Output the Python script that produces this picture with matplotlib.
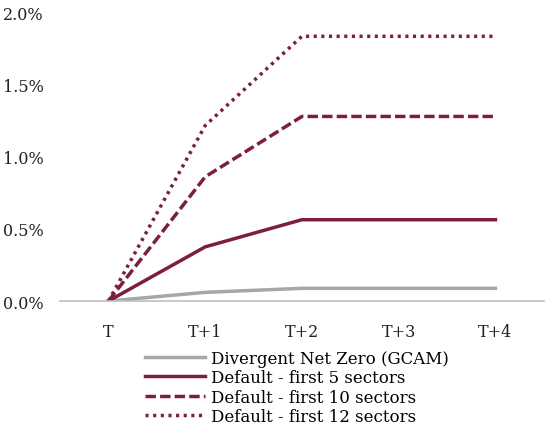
import numpy as np
import matplotlib.pyplot as plt
from matplotlib.ticker import FuncFormatter

periods = ['T', 'T+1', 'T+2', 'T+3', 'T+4']
gcam = [0.0, 0.06, 0.088, 0.088, 0.088]
first5 = [0.0, 0.375, 0.563, 0.563, 0.563]
first10 = [0.0, 0.86, 1.278, 1.278, 1.278]
first12 = [0.0, 1.215, 1.833, 1.833, 1.833]

maroon = '#7b2038'
grey = '#a3a8aa'

plt.rcParams['font.family'] = ['DejaVu Serif']

fig = plt.figure(figsize=(5.46, 4.39), dpi=100)
ax = fig.add_axes([0.110, 0.312, 0.886, 0.658])

x = np.arange(len(periods))
lw = 2.5
ax.plot(x, gcam, color=grey, lw=lw, label='Divergent Net Zero (GCAM)')
ax.plot(x, first5, color=maroon, lw=lw, label='Default - first 5 sectors')
ax.plot(x, first10, color=maroon, lw=lw, ls=(0, (3.0, 1.2)), label='Default - first 10 sectors')
ax.plot(x, first12, color=maroon, lw=lw, ls=(0, (0.9, 1.3)), label='Default - first 12 sectors')

ax.set_xlim(-0.5, 4.5)
ax.set_ylim(0, 2.0)
ax.set_yticks([0, 0.5, 1.0, 1.5, 2.0])
ax.yaxis.set_major_formatter(FuncFormatter(lambda v, p: f'{v:.1f}%'))
ax.set_xticks(x)
ax.set_xticklabels(periods)
ax.tick_params(length=0, labelsize=11.5, colors='#222222')
ax.tick_params(axis='x', pad=16)
ax.tick_params(axis='y', pad=12)
for s in ['top', 'right', 'left']:
    ax.spines[s].set_visible(False)
ax.spines['bottom'].set_color('#bdbdbd')
ax.spines['bottom'].set_linewidth(1.2)

ax.legend(loc='upper center', bbox_to_anchor=(0.49, -0.14), frameon=False,
          handlelength=3.6, handletextpad=0.35, labelspacing=0.15, borderpad=0,
          prop={'size': 12})

fig.savefig('out.png', dpi=100)
